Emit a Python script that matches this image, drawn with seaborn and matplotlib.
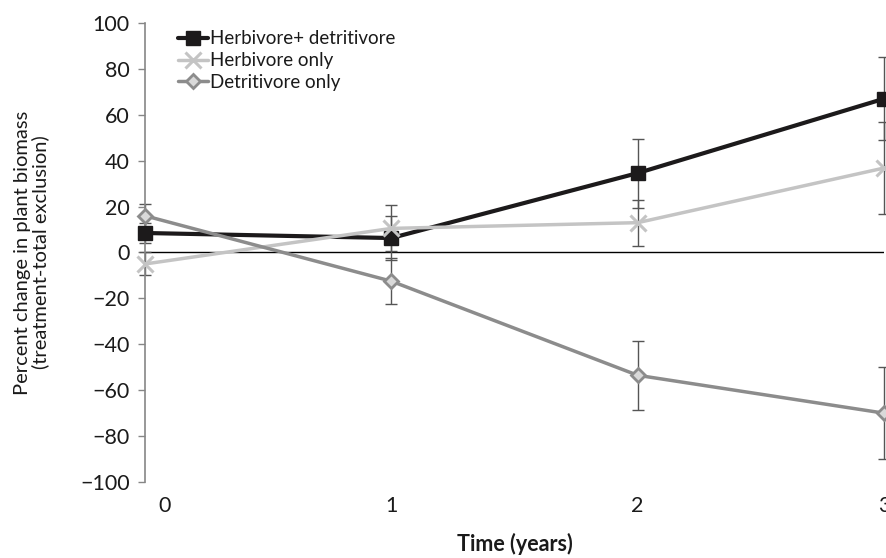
import matplotlib
matplotlib.use("Agg")
import matplotlib.pyplot as plt
import matplotlib.transforms as mtransforms
import seaborn as sns
import pandas as pd

# datos
years = [0, 1, 2, 3]
herb_detr = [8.5, 6.3, 34.6, 67]
herb_detr_err = [4.4, 9.5, 15, 18]
herb_only = [-5, 10.5, 13, 36.8]
herb_only_err = [5, 10, 10, 20]
detr_only = [16, -12.5, -53.5, -70]
detr_only_err = [5, 10, 15, 20]
series_names = ["Herbivore+ detritivore", "Herbivore only", "Detritivore only"]
y_ticks = [-100, -80, -60, -40, -20, 0, 20, 40, 60, 80, 100]


def make_plot():
    sns.set_theme(style="white")
    plt.rcParams["font.family"] = ["Lato", "DejaVu Sans"]

    fig = plt.figure(figsize=(8.86, 5.58), dpi=100)
    ax = fig.add_axes([145 / 886, 76 / 558, 739 / 886, 459 / 558])

    df = pd.DataFrame({
        "year": years * 3,
        "value": herb_detr + herb_only + detr_only,
        "err": herb_detr_err + herb_only_err + detr_only_err,
        "series": [series_names[0]] * 4 + [series_names[1]] * 4 + [series_names[2]] * 4,
    })

    # estilos por serie
    styles = {
        series_names[0]: dict(color="#1c1a1b", lw=3, marker="s", ms=10, mfc="#1c1a1b", mec="#1c1a1b", mew=1),
        series_names[1]: dict(color="#c4c4c4", lw=2.5, marker="x", ms=11, mfc="#c4c4c4", mec="#c4c4c4", mew=2.2),
        series_names[2]: dict(color="#8c8c8c", lw=2.5, marker="D", ms=7, mfc="#d9d9d9", mec="#8c8c8c", mew=2),
    }

    # línea del cero
    ax.axhline(0, color="black", lw=1, zorder=1)

    for name in series_names:
        sub = df[df["series"] == name]
        ax.errorbar(sub["year"], sub["value"], yerr=sub["err"], fmt="none",
                    ecolor="#555555", elinewidth=1, capsize=4, capthick=1,
                    zorder=2, clip_on=False)
        st = styles[name]
        sns.lineplot(data=sub, x="year", y="value", ax=ax, label=name,
                     color=st["color"], linewidth=st["lw"], marker=st["marker"],
                     markersize=st["ms"], markerfacecolor=st["mfc"],
                     markeredgecolor=st["mec"], markeredgewidth=st["mew"],
                     errorbar=None, zorder=3, clip_on=False)

    ax.set_xlim(0, 3)
    ax.set_ylim(-100, 100)
    ax.set_yticks(y_ticks)
    ax.set_yticklabels([str(v).replace("-", "\u2212") for v in y_ticks])
    ax.set_xticks(years)

    for s in ["top", "right", "bottom"]:
        ax.spines[s].set_visible(False)
    ax.spines["left"].set_color("#868686")
    ax.spines["left"].set_linewidth(1.2)
    ax.tick_params(axis="y", which="major", direction="out", length=5, width=1,
                   color="#868686", labelsize=15.5, labelcolor="#1a1a1a", pad=6, left=True)
    ax.tick_params(axis="x", length=0, labelsize=15.5, labelcolor="#1a1a1a", pad=10)

    # Excel desplaza un poco la etiqueta del 0 hacia la derecha
    shift = mtransforms.ScaledTranslation(20 / 100, 0, fig.dpi_scale_trans)
    lbl0 = ax.get_xticklabels()[0]
    lbl0.set_transform(lbl0.get_transform() + shift)

    ax.set_xlabel("Time (years)", fontsize=15.5, fontweight="bold", color="#1a1a1a", labelpad=12)
    ax.set_ylabel("Percent change in plant biomass\n(treatment-total exclusion)",
                  fontsize=14.5, color="#1a1a1a", labelpad=22, linespacing=1.05)

    leg = ax.legend(loc="upper left", bbox_to_anchor=(0.035, 1.0), frameon=False,
                    fontsize=13.5, handlelength=1.6, handletextpad=0.1,
                    labelspacing=0.25, borderaxespad=0)
    for t in leg.get_texts():
        t.set_color("#1a1a1a")

    fig.savefig("out.png", dpi=100)
    plt.close(fig)


if __name__ == "__main__":
    make_plot()
